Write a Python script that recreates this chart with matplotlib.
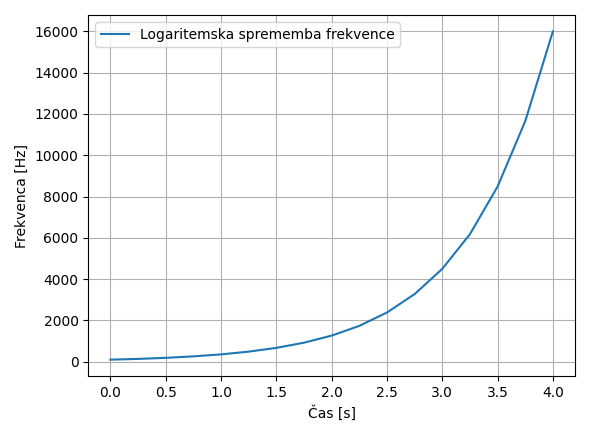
import matplotlib
matplotlib.use("Agg")
import matplotlib.pyplot as plt

time_s = [0.0, 0.25, 0.5, 0.75, 1.0, 1.25, 1.5, 1.75, 2.0, 2.25, 2.5, 2.75,
          3.0, 3.25, 3.5, 3.75, 4.0]
freq_hz = [100, 137, 189, 260, 356, 489, 671, 922, 1265, 1737, 2385, 3276,
           4498, 6177, 8483, 11650, 16000]

fig, ax = plt.subplots(figsize=(5.9, 4.36), dpi=100)
ax.plot(time_s, freq_hz, label="Logaritemska sprememba frekvence")
ax.set_xlabel("Čas [s]")
ax.set_ylabel("Frekvenca [Hz]")
ax.grid(True)
ax.legend(loc="upper left")
fig.tight_layout()
fig.savefig("out.png")
